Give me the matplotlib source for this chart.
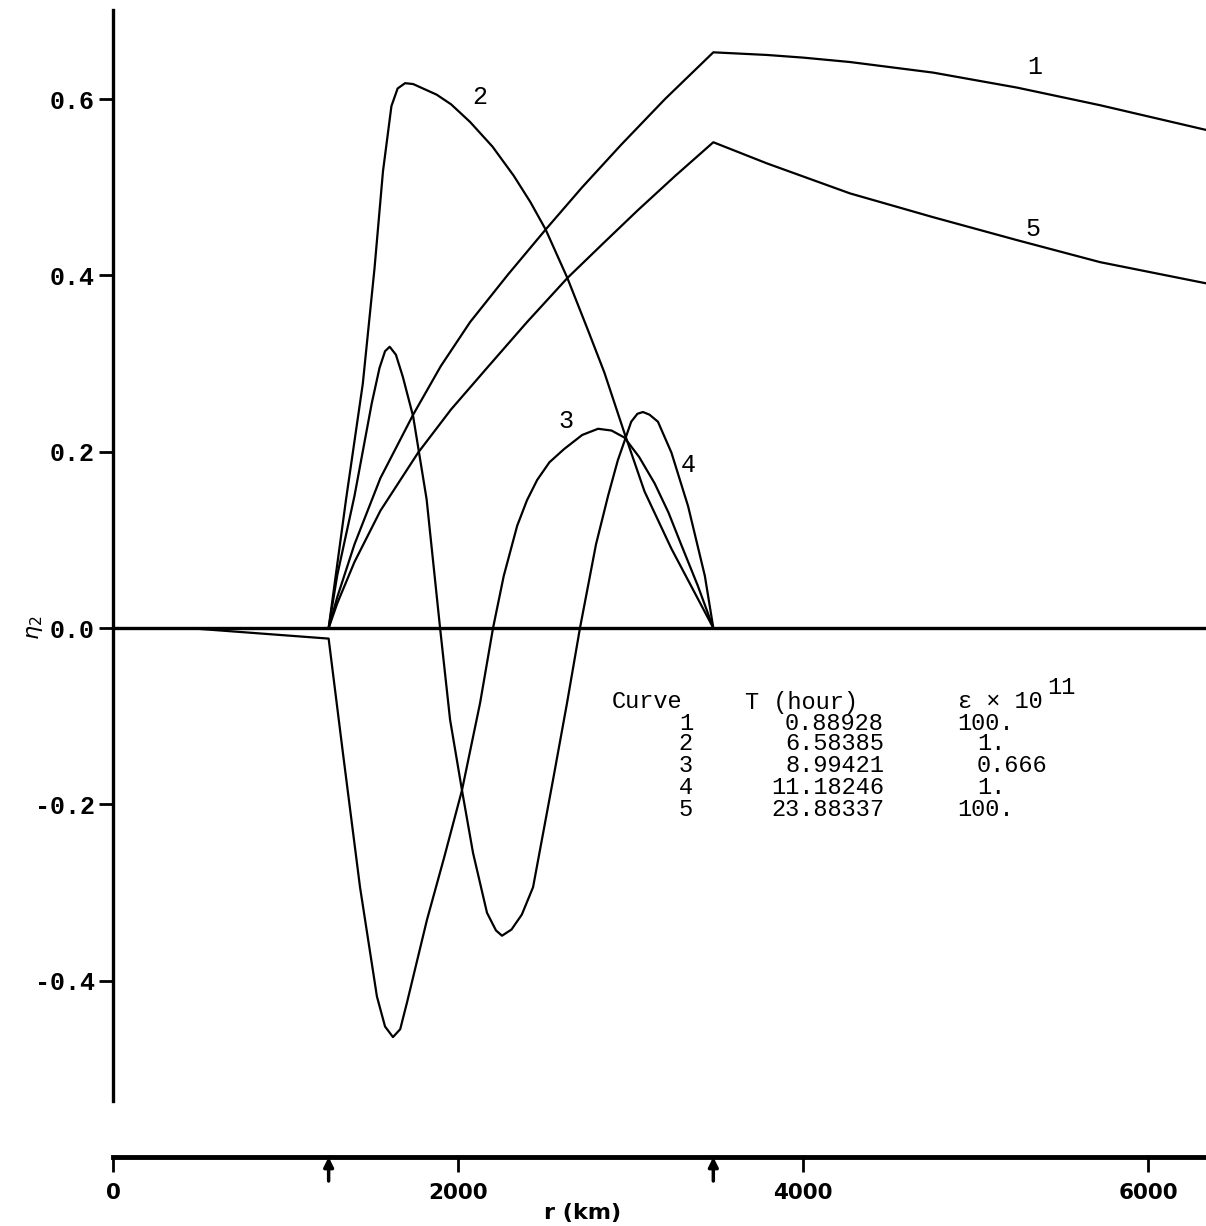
import matplotlib
matplotlib.use("Agg")
import matplotlib.pyplot as plt

plt.rcParams['axes.unicode_minus'] = False
MONO = 'Liberation Mono'

# ---------------- data (r in km, eta_2) ----------------
r1 = [1250, 1300, 1400, 1550, 1740, 1900, 2070, 2290, 2508, 2720, 2945, 3200, 3480, 3791, 4000, 4272,
      4754, 5240, 5722, 6336]
eta1 = [0, 0.035, 0.095, 0.17, 0.242, 0.297, 0.347, 0.401, 0.452, 0.500, 0.548, 0.600, 0.653, 0.650,
        0.647, 0.642, 0.630, 0.613, 0.593, 0.565]

r2 = [1250, 1351, 1448, 1516, 1565, 1614, 1650, 1693, 1740, 1876, 1960, 2070, 2200, 2323, 2420, 2508,
      2634, 2751, 2848, 2965, 3081, 3237, 3480]
eta2 = [0, 0.146, 0.277, 0.408, 0.518, 0.592, 0.612, 0.618, 0.617, 0.605, 0.594, 0.574, 0.546, 0.513,
        0.483, 0.452, 0.397, 0.339, 0.290, 0.221, 0.155, 0.090, 0]

r3 = [0, 500, 1250, 1333, 1432, 1530, 1577, 1623, 1665, 1704, 1820, 1920, 2023, 2128, 2203, 2265, 2343,
      2400, 2459, 2530, 2615, 2720, 2812, 2890, 2965, 3050, 3140, 3220, 3295, 3390, 3480]
eta3 = [0, -0.001, -0.012, -0.142, -0.294, -0.418, -0.452, -0.464, -0.455, -0.425, -0.331, -0.26,
        -0.184, -0.085, 0, 0.059, 0.116, 0.145, 0.168, 0.188, 0.203, 0.219, 0.226, 0.224, 0.216, 0.194,
        0.164, 0.131, 0.094, 0.048, 0]

r4 = [1250, 1300, 1400, 1500, 1545, 1577, 1604, 1640, 1680, 1740, 1818, 1896, 1954, 2023, 2087, 2168,
      2220, 2255, 2310, 2370, 2435, 2551, 2632, 2707, 2800, 2870, 2926, 3004, 3040, 3072, 3110, 3159,
      3237, 3334, 3431, 3480]
eta4 = [0, 0.06, 0.15, 0.255, 0.295, 0.314, 0.319, 0.31, 0.285, 0.24, 0.146, 0, -0.104, -0.184, -0.255,
        -0.323, -0.343, -0.349, -0.342, -0.325, -0.294, -0.172, -0.085, 0, 0.095, 0.150, 0.19, 0.234,
        0.243, 0.245, 0.242, 0.234, 0.199, 0.138, 0.059, 0]

r5 = [1250, 1300, 1400, 1550, 1769, 1960, 2168, 2400, 2634, 2840, 3043, 3260, 3480, 3791, 4272, 4754,
      5240, 5722, 6336]
eta5 = [0, 0.028, 0.075, 0.133, 0.199, 0.248, 0.295, 0.347, 0.397, 0.436, 0.474, 0.513, 0.551, 0.527,
        0.493, 0.466, 0.440, 0.415, 0.391]

curve_ids = ['1', '2', '3', '4', '5']
label_r = [5345, 2128, 2626, 3333, 5333]
label_eta = [0.636, 0.602, 0.235, 0.185, 0.453]

periods = ['0.88928', '6.58385', '8.99421', '11.18246', '23.88337']
eps = ['100.', '1.', '0.666', '1.', '100.']

yticks = [-0.4, -0.2, 0.0, 0.2, 0.4, 0.6]
ytick_labels = ['-0.4', '-0.2', '0.0', '0.2', '0.4', '0.6']
xticks = [0, 2000, 4000, 6000]
xtick_labels = ['0', '2000', '4000', '6000']
arrow_r = [1250, 3480]

# ---------------- figure ----------------
W, H = 1206, 1226
fig = plt.figure(figsize=(W / 100, H / 100), dpi=100)
ax = fig.add_axes([113 / W, (H - 1157) / H, 1 - 113 / W, (1157 - 10) / H])
ax.set_xlim(0, 6336)
ax.set_ylim(-0.6, 0.701)

for sp in ['top', 'right']:
    ax.spines[sp].set_visible(False)
ax.spines['left'].set_linewidth(2.4)
ax.spines['left'].set_bounds(-0.537, 0.701)
ax.spines['bottom'].set_linewidth(3.5)

ax.axhline(0, color='black', lw=2.4, zorder=2)

for rr, ee in [(r1, eta1), (r2, eta2), (r3, eta3), (r4, eta4), (r5, eta5)]:
    ax.plot(rr, ee, color='black', lw=1.6, solid_joinstyle='round', zorder=3)

for cid, xr, ye in zip(curve_ids, label_r, label_eta):
    ax.text(xr, ye, cid, fontsize=18, family=MONO, ha='center', va='center')

ax.set_yticks(yticks)
ax.set_yticklabels(ytick_labels, family=MONO, fontsize=18, fontweight='bold')
ax.set_xticks(xticks)
ax.set_xticklabels(xtick_labels, family='DejaVu Sans', fontsize=15.5, fontweight='bold')
ax.tick_params(axis='y', direction='out', length=10, width=2, pad=3)
ax.tick_params(axis='x', direction='out', length=11, width=2, pad=8)

for xa in arrow_r:
    ax.annotate('', xy=(xa, -0.6), xytext=(xa, -0.6 - 24 / 882),
                arrowprops=dict(arrowstyle='-|>', lw=2.5, color='black',
                                mutation_scale=14, shrinkA=0, shrinkB=0),
                annotation_clip=False)

fig.text(35 / W, 1 - 628 / H, r'$\eta_2$', rotation=90, ha='center', va='center', fontsize=16)
fig.text(583 / W, 1 - 1213 / H, 'r (km)', ha='center', va='center', fontsize=16, fontweight='bold')

# table
fs = 17
def fx(px):
    return px / W
def fy(py):
    return 1 - py / H

fig.text(fx(612), fy(702), 'Curve', family=MONO, fontsize=fs, va='center', ha='left')
fig.text(fx(745), fy(702), 'T (hour)', family=MONO, fontsize=fs, va='center', ha='left')
fig.text(fx(958), fy(702), r'ε × 10', family=MONO, fontsize=fs, va='center', ha='left')
fig.text(fx(1047), fy(687), '11', family=MONO, fontsize=fs, va='center', ha='left')
row_y = [723, 744, 766, 788, 810]
eps_x = [957, 977, 977, 977, 957]
for cid, per, ep, yy, ex in zip(curve_ids, periods, eps, row_y, eps_x):
    fig.text(fx(693), fy(yy), cid, family=MONO, fontsize=fs, va='center', ha='right')
    fig.text(fx(884), fy(yy), per, family=MONO, fontsize=fs, va='center', ha='right')
    fig.text(fx(ex), fy(yy), ep, family=MONO, fontsize=fs, va='center', ha='left')

fig.savefig('out.png', dpi=100)
